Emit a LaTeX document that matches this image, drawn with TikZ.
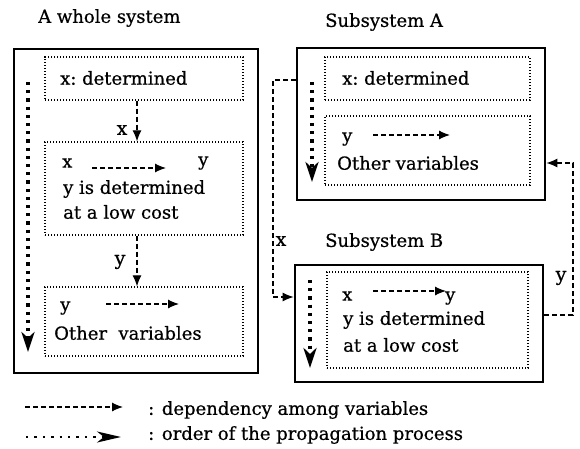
\documentclass[tikz,border=0pt]{standalone}
\usepackage{fontspec}
\setmainfont{DejaVu Serif}[FakeBold=0.6]
\usetikzlibrary{arrows.meta}
\tikzset{
  outerbox/.style={draw, line width=2.8pt, inner sep=0pt},
  innerbox/.style={draw, line width=1.3pt, dash pattern=on 1.3pt off 1.7pt, inner sep=0pt},
  dep/.style={draw, line width=1.1pt, dash pattern=on 5pt off 3pt, -{Latex[length=11pt,width=9pt]}},
  prop/.style={draw, line width=3.2pt, dash pattern=on 3.2pt off 5pt, -{Stealth[length=20pt,width=13pt,inset=6pt]}},
  legprop/.style={draw, line width=2.4pt, dash pattern=on 2.4pt off 6pt, -{Stealth[length=24pt,width=11pt,inset=7pt]}},
  txt/.style={inner sep=0pt, anchor=west, font=\fontsize{18}{20}\selectfont},
  lbl/.style={inner sep=0pt, font=\fontsize{19}{21}\selectfont},
}
\begin{document}
\begin{tikzpicture}[x=1pt,y=-1pt]
\useasboundingbox (0,0) rectangle (580,449);

% titles
\node[txt] (tW) at (38,18) {A whole system};
\node[txt] (tA) at (325,22) {Subsystem A};
\node[txt] (tB) at (325,242) {Subsystem B};

% whole system
\node[outerbox, minimum width=244, minimum height=324] (W) at (136,211) {};
\node[innerbox, minimum width=198, minimum height=43] (W1) at (144,78.5) {};
\node[innerbox, minimum width=198, minimum height=93] (W2) at (144,188.5) {};
\node[innerbox, minimum width=198, minimum height=69] (W3) at (144,321.5) {};

\node[txt] (w1t) at (60,78) {x:\ determined};
\node[txt] (w2x) at (62,163) {x};
\node[txt] (w2y) at (198,163) {y};
\node[txt] (w2a) at (63,189) {y is determined};
\node[txt] (w2b) at (63,212) {at a low cost};
\node[txt] (w3y) at (60,308) {y};
\node[txt] (w3o) at (54,333) {Other\ \ variables};

\coordinate (w2s) at (92,168); \coordinate (w2e) at (166,168);
\draw[dep] (w2s) -- (w2e);
\coordinate (w3s) at (106,304); \coordinate (w3e) at (179,304);
\draw[dep] (w3s) -- (w3e);

\draw[dep] (W1.south -| 137,0) -- (W2.north -| 137,0);
\draw[dep] (W2.south -| 137,0) -- (W3.north -| 137,0);
\node[lbl] (lx1) at (122,130) {x};
\node[lbl] (ly1) at (120,262) {y};

\coordinate (pW1) at (28,82); \coordinate (pW2) at (28,352);
\draw[prop] (pW1) -- (pW2);

% subsystem A
\node[outerbox, minimum width=248, minimum height=152] (A) at (421,124) {};
\node[innerbox, minimum width=205, minimum height=43] (A1) at (427.5,78.5) {};
\node[innerbox, minimum width=205, minimum height=69] (A2) at (427.5,150.5) {};
\node[txt] (a1t) at (342,78) {x:\ determined};
\node[txt] (a2y) at (342,139) {y};
\node[txt] (a2o) at (337,163) {Other variables};
\coordinate (a2s) at (373,135); \coordinate (a2e) at (450,135);
\draw[dep] (a2s) -- (a2e);
\coordinate (pA1) at (312,82); \coordinate (pA2) at (312,182);
\draw[prop] (pA1) -- (pA2);

% subsystem B
\node[outerbox, minimum width=248, minimum height=117] (B) at (419,323.5) {};
\node[innerbox, minimum width=201, minimum height=96] (B1) at (427.5,320) {};
\node[txt] (b1x) at (342,296) {x};
\node[txt] (b1y) at (445,298) {y};
\node[txt] (b1a) at (343,320) {y is determined};
\node[txt] (b1b) at (343,345) {at a low cost};
\coordinate (b1s) at (373,291); \coordinate (b1e) at (446,291);
\draw[dep] (b1s) -- (b1e);
\coordinate (pB1) at (310,280); \coordinate (pB2) at (310,368);
\draw[prop] (pB1) -- (pB2);

% inter-subsystem connectors
\draw[dep] (A.west |- 0,80) -- (273,80) -- (273,297) -- (B.west |- 0,297);
\node[lbl] (lx2) at (281,241) {x};
\draw[dep] (B.east |- 0,315) -- (573,315) -- (573,163) -- (A.east |- 0,163);
\node[lbl] (ly2) at (561,278) {y};

% legend
\coordinate (l1s) at (25,407); \coordinate (l1e) at (123,407);
\draw[dep] (l1s) -- (l1e);
\node[txt] (l1t) at (148,410) {: dependency among variables};
\coordinate (l2s) at (26,437); \coordinate (l2e) at (121,437);
\draw[legprop] (l2s) -- (l2e);
\node[txt] (l2t) at (148,435) {: order of the propagation process};
\end{tikzpicture}
\end{document}
